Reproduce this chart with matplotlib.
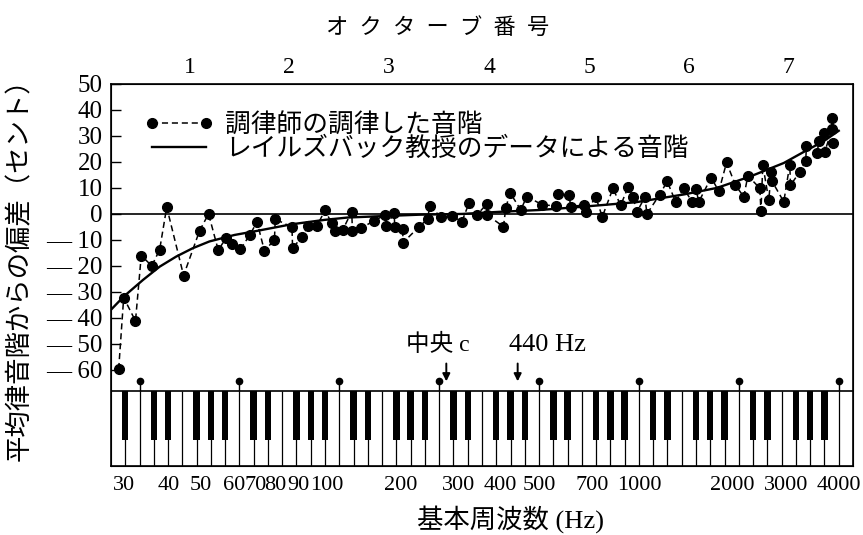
import matplotlib
matplotlib.use('Agg')
import numpy as np
import matplotlib.pyplot as plt
from matplotlib.transforms import ScaledTranslation

plt.rcParams['font.family'] = ['Liberation Serif', 'Noto Sans CJK JP']

# tuner's scale (Hz, cents)
tuner_hz = [28.3, 29.3, 31.8, 33.1, 35.6, 37.6, 39.5, 44.4, 49.6, 52.8,
            56.5, 59.6, 62.1, 65.9, 70.4, 73.9, 77.8, 83.4, 83.9, 94.2,
            94.6, 100.7, 105.5, 112.1, 118.5, 124.0, 127.0, 133.9, 142.6, 143.3,
            152.0, 166.7, 179.9, 180.8, 191.5, 192.2, 202.9, 203.8, 227.7, 241.3,
            245.3, 264.7, 286.9, 306.2, 322.1, 339.7, 364.1, 365.0, 408.6, 415.3,
            427.9, 460.8, 480.4, 535.4, 587.4, 596.9, 644.2, 651.8, 714.8, 726.4,
            775.1, 811.4, 873.8, 921.9, 971.6, 1004, 1032, 1091, 1106, 1208,
            1273, 1350, 1429, 1512, 1553, 1586, 1727, 1822, 1922, 2045,
            2167, 2228, 2421, 2440, 2472, 2577, 2618, 2637, 2859, 2981,
            2995, 3194, 3329, 3346, 3610, 3640, 3773, 3800, 3996, 4005, 4015]
tuner_cents = [-59.7, -32.2, -41.2, -16.0, -20.0, -13.8, 2.6, -23.7, -6.5, 0.0,
               -14.0, -9.2, -11.6, -13.5, -8.0, -3.0, -14.2, -10.0, -2.0, -5.1,
               -13.2, -9.0, -4.6, -4.6, 1.5, -3.6, -6.5, -6.2, 0.9, -6.4,
               -5.5, -2.6, -0.4, -4.6, 0.3, -5.1, -5.8, -11.0, -4.9, -2.0,
               3.2, -1.3, -0.8, -3.0, 4.3, -0.4, 3.8, -0.4, -4.9, 2.2,
               8.2, 1.5, 6.7, 3.5, 3.1, 7.7, 7.3, 2.8, 3.5, 0.7,
               6.6, -1.1, 9.8, 3.3, 10.5, 6.6, 0.7, 6.6, 0.0, 7.4,
               12.5, 4.7, 9.8, 4.7, 9.6, 4.7, 14.0, 8.7, 19.8, 11.0,
               6.6, 14.7, 9.9, 1.0, 18.9, 5.2, 16.2, 12.5, 4.7, 19.0,
               11.0, 16.2, 20.4, 26.3, 23.3, 28.0, 31.0, 24.0, 32.5, 36.8, 27.4]

# Railsback curve
railsback_hz = [27.0, 29.3, 33.5, 37.6, 42.2, 47.3, 53.1, 63.2, 74.1, 93.8,
                117.9, 138.3, 164.4, 227.7, 306.8, 396.6, 523, 667, 1025, 1429,
                1797, 2275, 2859, 3353, 3773, 4186]
railsback_cents = [-36.5, -31.8, -25.4, -20.3, -16.4, -13.2, -10.6, -8.1, -6.5, -4.0,
                   -2.3, -1.4, -1.0, -0.3, 0.0, 0.8, 1.5, 2.5, 4.5, 7.5,
                   10.0, 14.5, 19.6, 24.5, 28.0, 32.0]

xtick_hz = [30, 40, 50, 60, 70, 80, 90, 100, 200, 300, 400, 500, 700, 1000, 2000, 3000, 4000]
xtick_shift = {30: -3, 60: 7, 70: 6, 80: 7, 90: 13, 100: 26, 500: 7, 700: 11,
               1000: 7, 3000: -5, 4000: 7}   # pixels, as printed
ytick_cents = list(range(-60, 51, 10))
octave_labels = ['1', '2', '3', '4', '5', '6', '7']

C1 = 32.703
lo = C1 * 2 ** (-2 / 7)
hi = C1 * 2 ** (7 + 1 / 7)
kb_top, kb_bot, bk_bot = -68.1, -97.0, -87.0

fig = plt.figure(figsize=(8.63, 5.35), dpi=100)
ax = fig.add_axes([0.1286, 0.129, 0.8598, 0.714])
ax.set_xscale('log', base=2)
ax.set_xlim(lo, hi)
ax.set_ylim(kb_bot, 50)
ax.minorticks_off()

ax.axhline(0, color='k', lw=1.2)
ax.plot(tuner_hz, tuner_cents, ls=(0, (4, 2.5)), color='k', lw=1.1,
        marker='o', ms=7, label='調律師の調律した音階')
ax.plot(railsback_hz, railsback_cents, color='k', lw=1.7,
        label='レイルズバック教授のデータによる音階')

# keyboard: 52 white keys A0..C8, equal width
names = 'ABCDEFG'
edges = C1 * 2 ** ((np.arange(53) - 2) / 7)
ax.axhline(kb_top, color='k', lw=1.2)
ax.vlines(edges[1:-1], kb_bot, kb_top, color='k', lw=0.9)
black = np.array([i for i in range(51) if names[i % 7] in 'ACDFG'])
bx = edges[black + 1]
w = 2 ** 0.032
ax.bar(bx / w, kb_top - bk_bot, width=bx * w - bx / w, bottom=bk_bot,
       align='edge', color='k', lw=0)
c_edges = edges[[i for i in range(52) if names[i % 7] == 'C']]
ax.vlines(c_edges, kb_top, -65, color='k', lw=1.0)
ax.plot(c_edges, np.full(len(c_edges), -64.4), 'o', color='k', ms=4.5)

# arrows
c4 = C1 * 2 ** (3 + 0.5 / 7)
a4 = C1 * 2 ** (3 + 5.5 / 7)
for xk in (c4, a4):
    ax.annotate('', xy=(xk, -65.5), xytext=(xk, -56.5),
                arrowprops=dict(arrowstyle='-|>', color='k', lw=1.4, mutation_scale=11))
ax.annotate('中央 c', xy=(c4, -50.5), xytext=(-29, 0), textcoords='offset points',
            ha='left', va='center', fontsize=17)
ax.annotate('440 Hz', xy=(a4, -50.5), xytext=(-6, 0), textcoords='offset points',
            ha='left', va='center', fontsize=19)

# axes
ax.set_yticks(ytick_cents)
ax.set_yticklabels([('— %d' % -v) if v < 0 else '%d' % v for v in ytick_cents])
ax.tick_params(axis='y', direction='in', length=7, width=1, labelsize=18, pad=6)
ax.set_xticks(xtick_hz)
ax.set_xticklabels([str(v) for v in xtick_hz])
ax.tick_params(axis='x', length=0, labelsize=16, pad=7)
for lab, f in zip(ax.get_xticklabels(), xtick_hz):
    dx = xtick_shift.get(f, 0)
    lab.set_transform(lab.get_transform() + ScaledTranslation(dx / 100, 0, fig.dpi_scale_trans))
for s in ax.spines.values():
    s.set_linewidth(1.2)

ax2 = ax.twiny()
ax2.set_xscale('log', base=2)
ax2.set_xlim(lo, hi)
ax2.minorticks_off()
ax2.set_xticks([C1 * 2 ** (k - 0.5) for k in range(1, 8)])
ax2.set_xticklabels(octave_labels)
ax2.tick_params(axis='x', length=0, labelsize=17, pad=4)
ax2.set_xlabel('オ  ク  タ  ー  ブ  番  号', fontsize=16)
ax2.xaxis.set_label_coords(0.44, 1.13)

ax.set_xlabel('基本周波数 (Hz)', fontsize=19)
ax.xaxis.set_label_coords(0.538, -0.103)
ax.set_ylabel('平均律音階からの偏差（セント）', fontsize=19)
ax.yaxis.set_label_coords(-0.107, 0.53)

ax.legend(loc='upper left', bbox_to_anchor=(0.045, 0.925), frameon=False, numpoints=2,
          prop=dict(size=18.5), handlelength=2.7, handletextpad=0.45, labelspacing=0.0,
          borderaxespad=0, borderpad=0)

fig.savefig('out.png', dpi=100)
plt.close()
